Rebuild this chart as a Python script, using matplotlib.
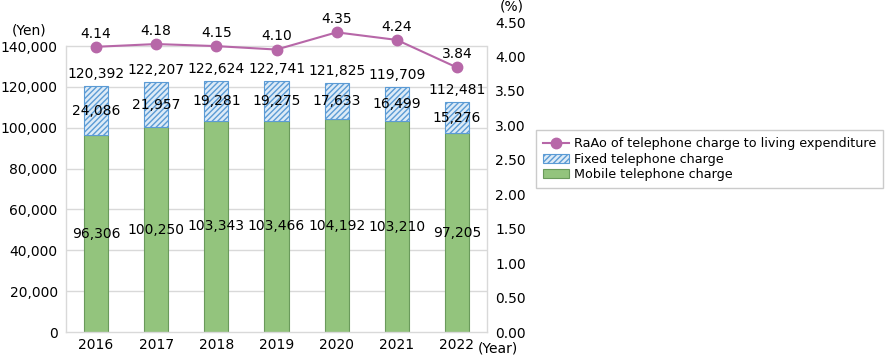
import matplotlib
matplotlib.use("Agg")
import matplotlib.pyplot as plt
import numpy as np

plt.rcParams['font.family'] = ['DejaVu Sans']
plt.rcParams['hatch.linewidth'] = 1.0

years = ["2016", "2017", "2018", "2019", "2020", "2021", "2022"]
mobile = [96306, 100250, 103343, 103466, 104192, 103210, 97205]
fixed = [24086, 21957, 19281, 19275, 17633, 16499, 15276]
totals = [120392, 122207, 122624, 122741, 121825, 119709, 112481]
ratio = [4.14, 4.18, 4.15, 4.10, 4.35, 4.24, 3.84]

left_ticks = [0, 20000, 40000, 60000, 80000, 100000, 120000, 140000]
right_ticks = [0.0, 0.5, 1.0, 1.5, 2.0, 2.5, 3.0, 3.5, 4.0, 4.5]

green = '#93C47D'
green_edge = '#6A9A5B'
blue_face = '#DDEBF7'
blue_edge = '#5B9BD5'
line_col = '#B767A8'
grid_col = '#D9D9D9'
FS = 10

fig = plt.figure(figsize=(8.85, 3.57), dpi=100)
ax = fig.add_axes([66/885, 1-332/357, (487-66)/885, (332-22)/357])
x = np.arange(len(years))
w = 0.4
LTOP = 151750

ax.bar(x, mobile, w, color=green, edgecolor=green_edge, linewidth=0.8, zorder=2,
       label='Mobile telephone charge')
ax.bar(x, fixed, w, bottom=mobile, color=blue_face, edgecolor=blue_edge, hatch='//////',
       linewidth=0.8, zorder=2, label='Fixed telephone charge')
ax.set_xlim(-0.5, len(years)-0.5)
ax.set_ylim(0, LTOP)
ax.set_yticks(left_ticks)
ax.set_yticklabels([f"{v:,}" for v in left_ticks], fontsize=FS)
ax.set_xticks(x)
ax.set_xticklabels(years, fontsize=FS)
ax.tick_params(length=0, pad=6)
ax.tick_params(axis='x', pad=4)
for v in left_ticks[1:]:
    ax.axhline(v, color=grid_col, lw=1, zorder=1)
ax.spines['top'].set_visible(False)
for s in ['left', 'right', 'bottom']:
    ax.spines[s].set_color(grid_col)
    ax.spines[s].set_linewidth(1)
ax.spines['left'].set_bounds(0, 140000)
ax.spines['right'].set_bounds(0, 140000)

for i in range(len(years)):
    ax.text(x[i], mobile[i]/2, f"{mobile[i]:,}", ha='center', va='center', fontsize=FS, zorder=5)
    ax.text(x[i], mobile[i] + fixed[i]/2, f"{fixed[i]:,}", ha='center', va='center', fontsize=FS, zorder=5)
    ax.text(x[i], totals[i] + 2500, f"{totals[i]:,}", ha='center', va='bottom', fontsize=FS, zorder=5)

ax2 = ax.twinx()
ax2.set_ylim(0, 4.5)
ax2.plot(x, ratio, color=line_col, lw=1.5, marker='o', ms=7.5, zorder=6,
         label='RaAo of telephone charge to living expenditure')
for i in range(len(years)):
    ax2.annotate(f"{ratio[i]:.2f}", (x[i], ratio[i]), xytext=(0, 4.5), textcoords='offset points',
                 ha='center', va='bottom', fontsize=FS)
ax2.set_yticks(right_ticks)
ax2.set_yticklabels([f"{v:.2f}" for v in right_ticks], fontsize=FS)
ax2.tick_params(length=0, pad=6)
for s in ax2.spines.values():
    s.set_visible(False)

fig.text(12/885, 1-30/357, "(Yen)", fontsize=FS, ha='left', va='center')
fig.text(500/885, 1-7/357, "(%)", fontsize=FS, ha='left', va='center')
fig.text(478/885, 1-348/357, "(Year)", fontsize=FS, ha='left', va='center')

h1, l1 = ax.get_legend_handles_labels()
h2, l2 = ax2.get_legend_handles_labels()
leg = fig.legend(h2 + h1[::-1], l2 + l1[::-1], loc='upper left',
                 bbox_to_anchor=(536/885, 1-130/357), fontsize=9.2, frameon=True,
                 fancybox=False, edgecolor='#BFBFBF', borderpad=0.55, labelspacing=0.2,
                 handlelength=2.0, handletextpad=0.4, borderaxespad=0)
leg.get_frame().set_linewidth(1)

fig.savefig("out.png", dpi=100)
